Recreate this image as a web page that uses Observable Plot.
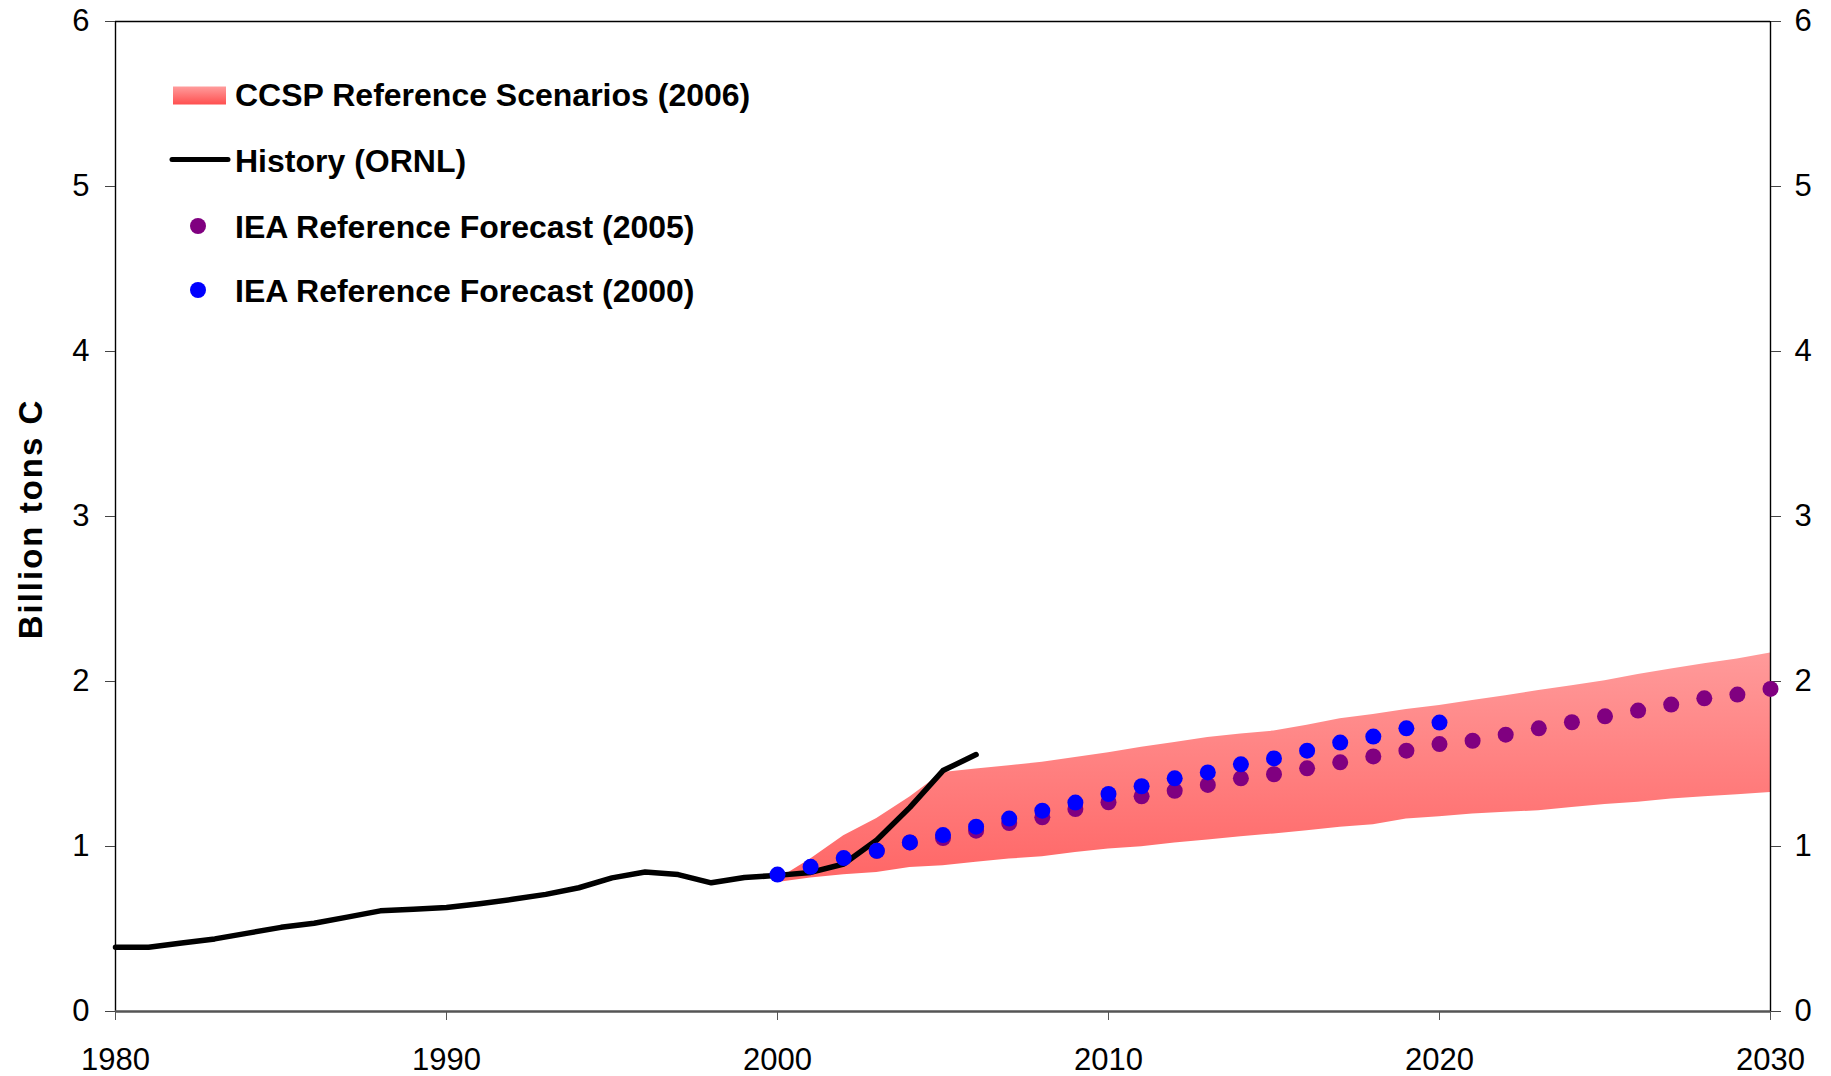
<!DOCTYPE html>
<html><head><meta charset="utf-8">
<script src="https://cdn.jsdelivr.net/npm/d3@7"></script>
<script src="https://cdn.jsdelivr.net/npm/@observablehq/plot@0.6"></script>
<style>
body{margin:0;background:#fff;}
#chart{position:relative;width:1831px;height:1076px;}
</style></head><body><div id="chart"></div>
<script>
// ---- data ----
const historyYears = [1980,1981,1982,1983,1984,1985,1986,1987,1988,1989,1990,1991,1992,1993,1994,1995,1996,1997,1998,1999,2000,2001,2002,2003,2004,2005,2006];
const historyValues = [0.39,0.39,0.415,0.44,0.475,0.51,0.535,0.572,0.61,0.62,0.63,0.653,0.68,0.71,0.75,0.81,0.845,0.83,0.78,0.812,0.825,0.843,0.894,1.039,1.237,1.46,1.557];

const iea2000Years = [2000,2001,2002,2003,2004,2005,2006,2007,2008,2009,2010,2011,2012,2013,2014,2015,2016,2017,2018,2019,2020];
const iea2000Values = [0.83,0.877,0.93,0.974,1.025,1.069,1.12,1.169,1.217,1.266,1.318,1.365,1.413,1.449,1.498,1.534,1.581,1.63,1.666,1.716,1.751];

const iea2005Years = [2003,2004,2005,2006,2007,2008,2009,2010,2011,2012,2013,2014,2015,2016,2017,2018,2019,2020,2021,2022,2023,2024,2025,2026,2027,2028,2029,2030];
const iea2005Values = [0.974,1.025,1.051,1.096,1.142,1.177,1.227,1.268,1.304,1.338,1.373,1.413,1.438,1.474,1.51,1.546,1.581,1.621,1.641,1.678,1.716,1.753,1.789,1.824,1.86,1.898,1.921,1.955];

const ccspYears = [2000,2001,2002,2003,2004,2005,2006,2007,2008,2009,2010,2011,2012,2013,2014,2015,2016,2017,2018,2019,2020,2021,2022,2023,2024,2025,2026,2027,2028,2029,2030];
const ccspLow  = [0.782,0.809,0.829,0.843,0.873,0.884,0.904,0.924,0.938,0.964,0.985,0.999,1.021,1.039,1.059,1.076,1.096,1.116,1.132,1.167,1.181,1.197,1.207,1.217,1.237,1.254,1.268,1.288,1.302,1.314,1.328];
const ccspHigh = [0.80,0.924,1.065,1.17,1.30,1.449,1.47,1.49,1.51,1.54,1.568,1.601,1.631,1.66,1.682,1.70,1.735,1.775,1.80,1.83,1.855,1.885,1.914,1.945,1.975,2.005,2.042,2.076,2.107,2.137,2.173];

const xTicks = [1980,1990,2000,2010,2020,2030];
const yTicks = [0,1,2,3,4,5,6];

const legendLabels = ["CCSP Reference Scenarios (2006)","History (ORNL)","IEA Reference Forecast (2005)","IEA Reference Forecast (2000)"];
const yTitle = "Billion tons C";

// ---- tables ----
const history = historyYears.map((year,i)=>({year, value: historyValues[i]}));
const iea2000 = iea2000Years.map((year,i)=>({year, value: iea2000Values[i]}));
const iea2005 = iea2005Years.map((year,i)=>({year, value: iea2005Values[i]}));
const band = ccspYears.map((year,i)=>({year, lo: ccspLow[i], hi: ccspHigh[i]}));

const font = "'Liberation Sans', Arial, Helvetica, sans-serif";

const plot = Plot.plot({
  width: 1831, height: 1076,
  marginLeft: 115, marginRight: 61, marginTop: 21, marginBottom: 65,
  style: {fontFamily: font, fontSize: "31px", background: "#fff", color: "#000"},
  x: {domain: [1980, 2030]},
  y: {domain: [0, 6]},
  marks: [
    Plot.areaY(band, {x: "year", y1: "lo", y2: "hi", fill: "url(#ccspGrad)", curve: "linear"}),
    Plot.ruleY([6], {stroke: "#000", strokeWidth: 1.4}),
    Plot.ruleX([1980], {stroke: "#000", strokeWidth: 1.4}),
    Plot.ruleX([2030], {stroke: "#000", strokeWidth: 1.4}),
    Plot.axisY({anchor: "left", ticks: yTicks, tickSize: 10, tickPadding: 16, label: null, tickFormat: d => String(d), stroke: "#444"}),
    Plot.axisY({anchor: "right", ticks: yTicks, tickSize: 10, tickPadding: 14, label: null, tickFormat: d => String(d), stroke: "#444"}),
    Plot.axisX({ticks: xTicks, tickSize: 9, tickPadding: 27, label: null, tickFormat: d => String(d), stroke: "#555"}),
    Plot.ruleY([0], {stroke: "#555", strokeWidth: 2.5}),
    Plot.line(history, {x: "year", y: "value", stroke: "#000", strokeWidth: 5.5, strokeLinejoin: "round", strokeLinecap: "round"}),
    Plot.dot(iea2005, {x: "year", y: "value", r: 8, fill: "#800080"}),
    Plot.dot(iea2000, {x: "year", y: "value", r: 8, fill: "#0000ff"})
  ]
});
document.getElementById("chart").appendChild(plot);

// ---- gradients ----
const svg = d3.select(plot);
const defs = svg.insert("defs", ":first-child");
const g1 = defs.append("linearGradient").attr("id", "ccspGrad").attr("x1", 0).attr("y1", 0).attr("x2", 0).attr("y2", 1);
g1.append("stop").attr("offset", "0%").attr("stop-color", "#ff9a9a");
g1.append("stop").attr("offset", "100%").attr("stop-color", "#ff6666");
const g2 = defs.append("linearGradient").attr("id", "legendGrad").attr("x1", 0).attr("y1", 0).attr("x2", 0).attr("y2", 1);
g2.append("stop").attr("offset", "0%").attr("stop-color", "#ff9c9c");
g2.append("stop").attr("offset", "100%").attr("stop-color", "#ff4f4f");

// ---- legend ----
const lg = svg.append("g").attr("font-family", font).attr("font-size", 32).attr("font-weight", "bold").attr("fill", "#000").attr("text-anchor", "start");
lg.append("rect").attr("x", 173).attr("y", 86.5).attr("width", 53).attr("height", 18).attr("fill", "url(#legendGrad)");
lg.append("line").attr("x1", 172).attr("x2", 228).attr("y1", 159.5).attr("y2", 159.5).attr("stroke", "#000").attr("stroke-width", 5).attr("stroke-linecap", "round");
lg.append("circle").attr("cx", 198).attr("cy", 226).attr("r", 8).attr("fill", "#800080");
lg.append("circle").attr("cx", 198).attr("cy", 290).attr("r", 8).attr("fill", "#0000ff");
const baselines = [105.5, 172, 237.5, 301.5];
legendLabels.forEach((t, i) => lg.append("text").attr("x", 235).attr("y", baselines[i]).attr("text-anchor", "start").text(t));

// ---- y title ----
svg.append("text")
  .attr("transform", "translate(42,519) rotate(-90)")
  .attr("text-anchor", "middle")
  .attr("font-family", font).attr("font-size", 33).attr("font-weight", "bold")
  .attr("letter-spacing", 2)
  .text(yTitle);
</script>
</body></html>
